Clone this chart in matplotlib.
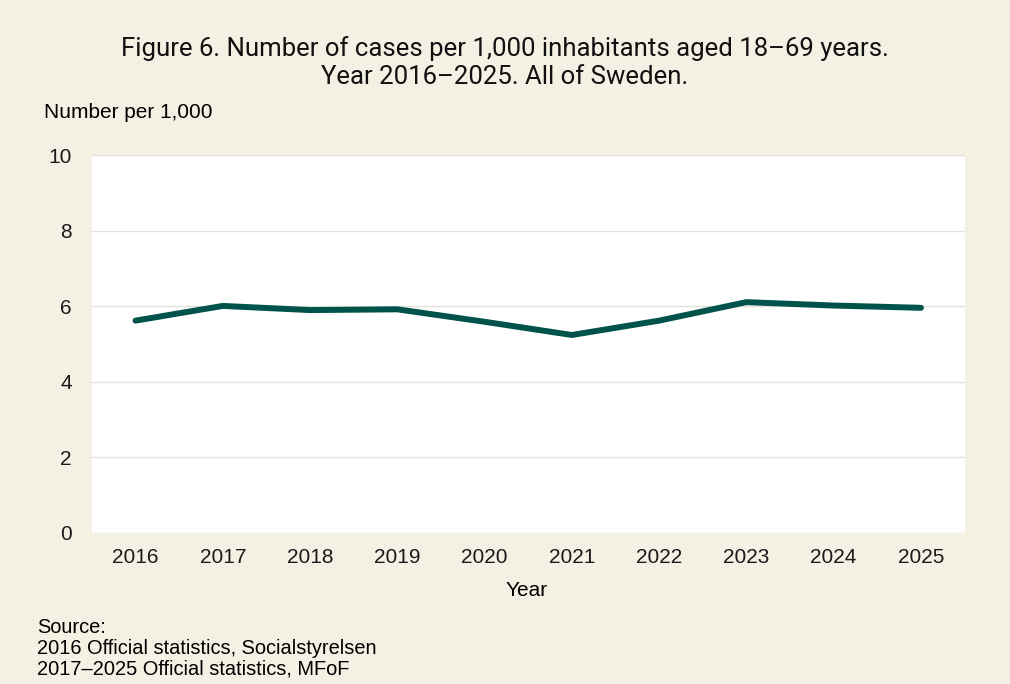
import matplotlib.pyplot as plt

years = ["2016", "2017", "2018", "2019", "2020", "2021", "2022", "2023", "2024", "2025"]
cases_per_1000 = [5.62, 6.01, 5.90, 5.92, 5.59, 5.24, 5.62, 6.11, 6.02, 5.96]
y_ticks = [0, 2, 4, 6, 8, 10]

bg = "#F4F0E3"
line_col = "#00534B"

plt.rcParams['font.family'] = ['Liberation Sans', 'DejaVu Sans']

fig = plt.figure(figsize=(10.1, 6.84), dpi=100, facecolor=bg)
ax = fig.add_axes([0.091, 0.221, 0.864, 0.552])
ax.set_facecolor("white")

x = list(range(len(years)))
ax.plot(x, cases_per_1000, color=line_col, lw=4.3, solid_capstyle='round', zorder=3)

ax.set_xlim(-0.5, len(years) - 0.5)
ax.set_ylim(0, 10)
ax.set_yticks(y_ticks)
ax.set_xticks(x)
ax.set_xticklabels(years)
ax.grid(axis='y', color="#E3E1DA", lw=1)
ax.set_axisbelow(True)
for s in ax.spines.values():
    s.set_visible(False)
ax.tick_params(length=0, labelsize=15, colors="#1a1a1a")
ax.tick_params(axis='x', pad=11)
ax.tick_params(axis='y', pad=14.5)

fig.text(0.5, 1 - 62.5 / 684, "Figure 6. Number of cases per 1,000 inhabitants aged 18\u201369 years.\nYear 2016\u20132025. All of Sweden.",
         ha='center', va='center', fontsize=18.5, family=['Roboto', 'DejaVu Sans'],
         linespacing=1.2, color="#111111")
fig.text(44 / 1010, 1 - 112 / 684, "Number per 1,000", ha='left', va='center', fontsize=15)
fig.text(527 / 1010, 1 - 591 / 684, "Year", ha='center', va='center', fontsize=15)
fig.text(37 / 1010, 1 - 618 / 684, "Source:\n2016 Official statistics, Socialstyrelsen\n2017\u20132025 Official statistics, MFoF",
         ha='left', va='top', fontsize=14.4, linespacing=1.13)

fig.savefig("out.png", dpi=100, facecolor=bg)
